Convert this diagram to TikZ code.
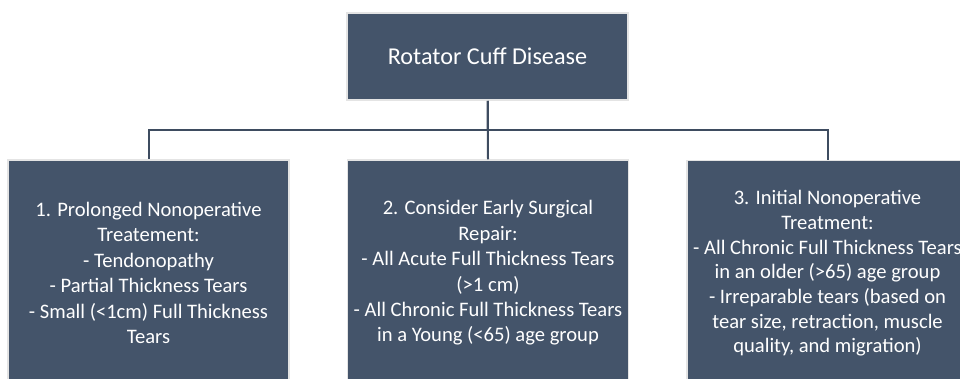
\documentclass[tikz,border=0pt]{standalone}
\usepackage{fontspec}
\setmainfont{Carlito}
\definecolor{boxblue}{HTML}{44546A}
\definecolor{boxedge}{HTML}{E4E4E4}
\definecolor{linecol}{HTML}{3E4C60}
\begin{document}
\begin{tikzpicture}[x=1pt,y=-1pt,
  box/.style={rectangle, fill=boxblue, draw=boxedge, line width=1.5pt, text=white,
    align=center, minimum width=281pt, inner sep=0pt},
  conn/.style={draw=linecol, line width=2pt}]
\useasboundingbox (0,0) rectangle (960,378);
\clip (0,0) rectangle (960,378);
\node[box, minimum height=87pt, font=\fontsize{24.2}{29}\selectfont] (top) at (487.5,56.5) {Rotator Cuff Disease};
\node[box, minimum height=226pt, font=\fontsize{20.6}{25.4}\selectfont] (b1) at (148.5,273)
  {1. Prolonged Nonoperative\\Treatement:\\- Tendonopathy\\- Partial Thickness Tears\\- Small (<1cm) Full Thickness\\Tears};
\node[box, minimum height=226pt, font=\fontsize{20.6}{25.4}\selectfont] (b2) at (488,273)
  {2. Consider Early Surgical\\Repair:\\- All Acute Full Thickness Tears\\(>1 cm)\\- All Chronic Full Thickness Tears\\in a Young (<65) age group};
\node[box, minimum height=226pt, font=\fontsize{20.6}{24.7}\selectfont] (b3) at (827.5,273.5)
  {3. Initial Nonoperative\\Treatment:\\- All Chronic Full Thickness Tears\\in an older (>65) age group\\- Irreparable tears (based on\\tear size, retraction, muscle\\quality, and migration)};
\draw[conn] (top.south) -- (b2.north);
\draw[conn] (top.south) -- ++(0,29.5) -| (b1.north);
\draw[conn] (top.south) -- ++(0,29.5) -| (b3.north);
\end{tikzpicture}
\end{document}
